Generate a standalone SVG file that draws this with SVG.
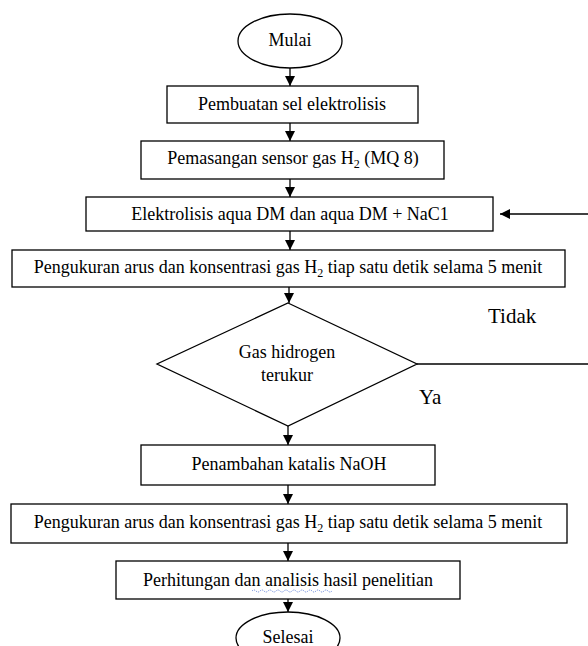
<svg xmlns="http://www.w3.org/2000/svg" width="588" height="646" viewBox="0 0 588 646">
<defs>
<marker id="ah" viewBox="0 0 10 10" refX="10" refY="5" markerWidth="10" markerHeight="10" markerUnits="userSpaceOnUse" orient="auto">
<path d="M0,0 L10,5 L0,10 z" fill="#000"/>
</marker>
<style>
.shape{fill:#fff;stroke:#000;stroke-width:1.3}
.t{font-family:"Liberation Serif","Times New Roman",serif;font-size:18px;fill:#000;text-anchor:middle}
.lbl{font-family:"Liberation Serif","Times New Roman",serif;font-size:21px;fill:#000}
.c{fill:none;stroke:#000;stroke-width:1.3}
.sub{font-size:12px}
</style>
</defs>
<rect width="588" height="646" fill="#fff"/>
<g id="connectors">
<line class="c" x1="290" y1="68" x2="290" y2="86" marker-end="url(#ah)"/>
<line class="c" x1="290" y1="123" x2="290" y2="141" marker-end="url(#ah)"/>
<line class="c" x1="290" y1="179" x2="290" y2="197" marker-end="url(#ah)"/>
<line class="c" x1="290" y1="231" x2="290" y2="250" marker-end="url(#ah)"/>
<line class="c" x1="289" y1="287" x2="289" y2="303" marker-end="url(#ah)"/>
<line class="c" x1="288" y1="426" x2="288" y2="445" marker-end="url(#ah)"/>
<line class="c" x1="288" y1="485" x2="288" y2="504" marker-end="url(#ah)"/>
<line class="c" x1="288" y1="543" x2="288" y2="561" marker-end="url(#ah)"/>
<line class="c" x1="288" y1="599" x2="288" y2="612" marker-end="url(#ah)"/>
<polyline class="c" points="417,364 588,364"/>
<line class="c" x1="588" y1="214" x2="500" y2="214" marker-end="url(#ah)"/>
<text class="lbl" x="488" y="323">Tidak</text>
<text class="lbl" x="419" y="404">Ya</text>
</g>
<g id="start">
<ellipse class="shape" cx="290" cy="41" rx="52" ry="27"/>
<text class="t" x="290" y="46">Mulai</text>
</g>
<g id="n1">
<rect class="shape" x="167" y="86" width="251" height="37"/>
<text class="t" x="292" y="110">Pembuatan sel elektrolisis</text>
</g>
<g id="n2">
<rect class="shape" x="141" y="141" width="303" height="38"/>
<text class="t" x="293" y="164">Pemasangan sensor gas H<tspan class="sub" dy="4">2</tspan><tspan dy="-4"> (MQ 8)</tspan></text>
</g>
<g id="n3">
<rect class="shape" x="86" y="197" width="407" height="34"/>
<text class="t" x="290" y="220">Elektrolisis aqua DM dan aqua DM + NaC1</text>
</g>
<g id="n4">
<rect class="shape" x="12" y="250" width="553" height="37"/>
<text class="t" x="288" y="273">Pengukuran arus dan konsentrasi gas H<tspan class="sub" dy="4">2</tspan><tspan dy="-4"> tiap satu detik selama 5 menit</tspan></text>
</g>
<g id="decision">
<polygon class="shape" points="288,303 417,364 288,426 157,364"/>
<text class="t" x="287" y="358">Gas hidrogen</text>
<text class="t" x="287" y="381">terukur</text>
</g>
<g id="n5">
<rect class="shape" x="141" y="445" width="294" height="40"/>
<text class="t" x="289" y="470">Penambahan katalis NaOH</text>
</g>
<g id="n6">
<rect class="shape" x="11" y="504" width="556" height="39"/>
<text class="t" x="288" y="528">Pengukuran arus dan konsentrasi gas H<tspan class="sub" dy="4">2</tspan><tspan dy="-4"> tiap satu detik selama 5 menit</tspan></text>
</g>
<g id="n7">
<rect class="shape" x="116" y="561" width="344" height="38"/>
<text class="t" x="288" y="586">Perhitungan dan analisis  hasil penelitian</text>
<path d="M252,591 q2,-2 4,0 t4,0 t4,0 t4,0 t4,0 t4,0 t4,0 t4,0 t4,0 t4,0 t4,0 t4,0 t4,0 t4,0 t4,0 t4,0 t4,0 t4,0 t4,0 t4,0" fill="none" stroke="#4a6fd0" stroke-width="0.8" stroke-dasharray="1.2,1"/>
</g>
<g id="end">
<ellipse class="shape" cx="288" cy="638" rx="52" ry="26"/>
<text class="t" x="288" y="643">Selesai</text>
</g>
</svg>
